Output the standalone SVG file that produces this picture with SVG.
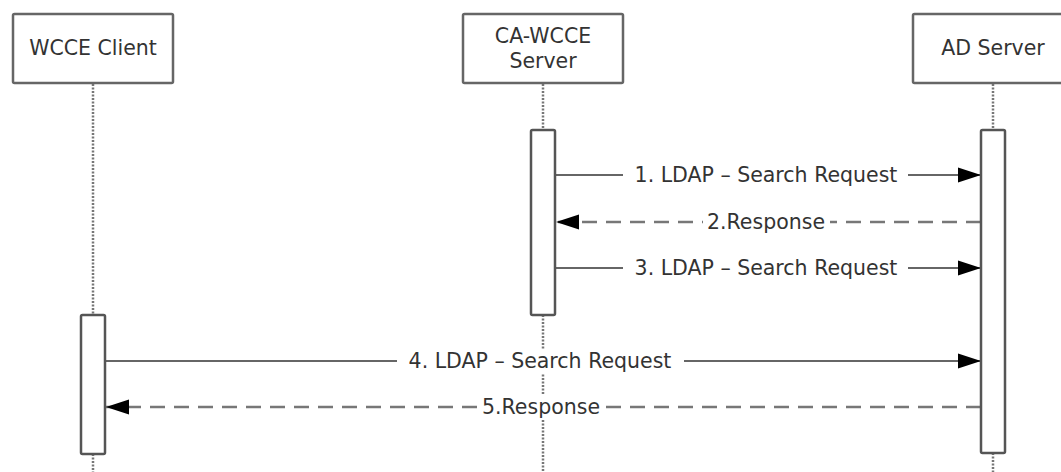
<svg xmlns="http://www.w3.org/2000/svg" width="1061" height="472" viewBox="0 0 1061 472">
<defs>
<style>
.box{fill:#fff;stroke:#666;stroke-width:2.5}
.bar{fill:#fff;stroke:#555;stroke-width:2.5}
.life{stroke:#777;stroke-width:2.5;stroke-dasharray:2 1.5;fill:none}
.msg{stroke:#666;stroke-width:2;fill:none}
.ret{stroke:#777;stroke-width:2.5;fill:none;stroke-dasharray:15 9}
.t{font-family:"DejaVu Sans",Verdana,sans-serif;font-size:20.5px;fill:#333;text-anchor:middle}
.bg{fill:#fff}
</style>
<marker id="ah" markerUnits="userSpaceOnUse" markerWidth="24" markerHeight="16" refX="23" refY="8" orient="auto">
<polygon points="0,0.5 23,8 0,15.5" fill="#000"/>
</marker>
</defs>

<g id="lifelines">
<line class="life" x1="93" y1="84" x2="93" y2="315"/>
<line class="life" x1="93" y1="454" x2="93" y2="472"/>
<line class="life" x1="543" y1="84" x2="543" y2="130"/>
<line class="life" x1="543" y1="315" x2="543" y2="472"/>
<line class="life" x1="993" y1="84" x2="993" y2="130"/>
<line class="life" x1="993" y1="453" x2="993" y2="472"/>
</g>

<g id="wcce-client">
<rect class="box" x="13" y="14" width="160" height="69" rx="1.5"/>
<text class="t" x="93" y="55">WCCE Client</text>
</g>
<g id="ca-wcce-server">
<rect class="box" x="463" y="14" width="160" height="69" rx="1.5"/>
<text class="t" x="543" y="43">CA-WCCE</text>
<text class="t" x="543" y="68">Server</text>
</g>
<g id="ad-server">
<rect class="box" x="913" y="14" width="160" height="69" rx="1.5"/>
<text class="t" x="993" y="55">AD Server</text>
</g>

<g id="connectors">
<line class="msg" x1="555" y1="175" x2="981" y2="175" marker-end="url(#ah)"/>
<line class="ret" x1="981" y1="222" x2="556" y2="222" marker-end="url(#ah)"/>
<line class="msg" x1="555" y1="268" x2="981" y2="268" marker-end="url(#ah)"/>
<line class="msg" x1="105" y1="361" x2="981" y2="361" marker-end="url(#ah)"/>
<line class="ret" x1="981" y1="407" x2="106" y2="407" marker-end="url(#ah)"/>
<rect class="bg" x="623" y="163" width="285" height="24"/>
<rect class="bg" x="703" y="210" width="127" height="24"/>
<rect class="bg" x="623" y="256" width="285" height="24"/>
<rect class="bg" x="397" y="349" width="287" height="24"/>
<rect class="bg" x="477" y="395" width="128" height="24"/>
<text class="t" x="766" y="182">1. LDAP – Search Request</text>
<text class="t" x="766" y="229">2.Response</text>
<text class="t" x="766" y="275">3. LDAP – Search Request</text>
<text class="t" x="540" y="368">4. LDAP – Search Request</text>
<text class="t" x="541" y="414">5.Response</text>
</g>

<g id="activations">
<rect class="bar" x="531" y="130" width="24" height="185" rx="1.5"/>
<rect class="bar" x="981" y="130" width="24" height="323" rx="1.5"/>
<rect class="bar" x="81" y="315" width="24" height="139" rx="1.5"/>
</g>
</svg>
